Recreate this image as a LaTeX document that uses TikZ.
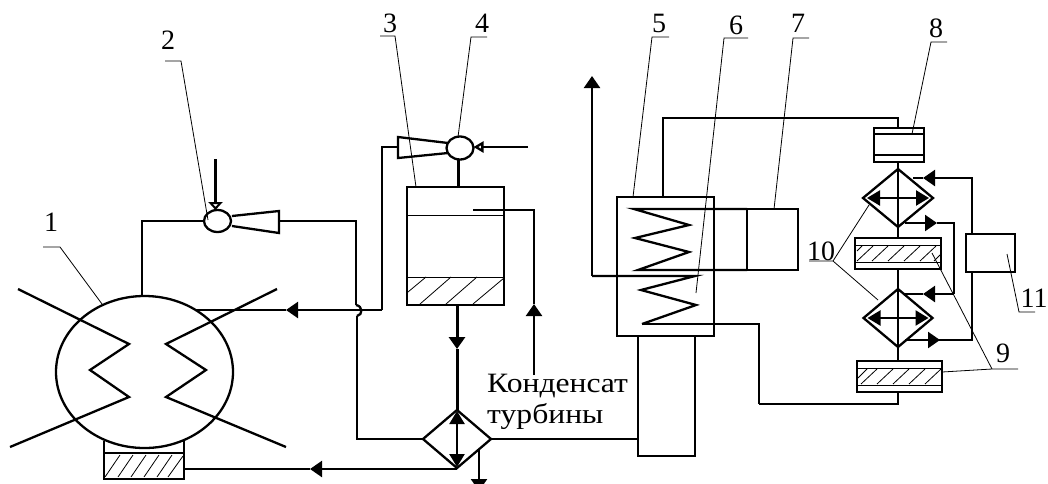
\documentclass[tikz,border=0pt]{standalone}
\usepackage{fontspec}
\setmainfont{Liberation Serif}
\newfontfamily\widefont[FakeStretch=1.13]{Liberation Serif}
\usetikzlibrary{arrows.meta,shapes.geometric}

\tikzset{
    pipe/.style={line width=2.3pt, line join=miter},
    shell/.style={draw, line width=2.3pt, inner sep=0pt, outer sep=0pt},
    thinline/.style={line width=1pt},
    hatchline/.style={line width=0.8pt},
    leader/.style={line width=0.8pt},
    flow/.style={pipe, -{Triangle[length=12pt,width=16pt]}},
    twoway/.style={pipe, {Triangle[length=13pt,width=15pt]}-{Triangle[length=13pt,width=15pt]}},
    numlabel/.style={font=\fontsize{28}{30}\selectfont, inner sep=0pt},
    condlabel/.style={font=\widefont\fontsize{28}{30}\selectfont, anchor=base west, inner sep=0pt}
}

\begin{document}
\begin{tikzpicture}[x=1pt, y=-1pt]
        \useasboundingbox (0,0) rectangle (1048,483);

        % Boiler drum with radiant tubes
        \node[shell, ellipse, minimum width=177pt, minimum height=152pt] (drum) at (144.5,372) {};
        \draw[pipe] (18,289) -- (129,344) -- (90,370) -- (129,397) -- (10,447);
        \draw[pipe] (277,289) -- (166,344) -- (206,370) -- (166,397) -- (286,447);

        % Slag box under the drum
        \node[shell, line width=1.6pt, minimum width=80pt, minimum height=26pt] (slagbox) at (144,466) {};
        \coordinate (slagwallA) at (104,441);
        \coordinate (slagwallB) at (184,441);
        \draw[line width=1.6pt] (slagbox.north west) -- (slagwallA);
        \draw[line width=1.6pt] (slagbox.north east) -- (slagwallB);
        \draw[hatchline] (105,477) -- (120,455);
        \draw[hatchline] (118,477) -- (133,455);
        \draw[hatchline] (131,477) -- (146,455);
        \draw[hatchline] (144,477) -- (159,455);
        \draw[hatchline] (157,477) -- (172,455);
        \draw[hatchline] (168,477) -- (183,456);

        % Ejector at the drum
        \node[shell, ellipse, minimum width=27pt, minimum height=22pt] (ejectorA) at (217.5,221) {};
        \draw[pipe] (232,216) -- (279,211) -- (279,233) -- (232,226);
        \coordinate (coneA) at (279,221);
        \coordinate (drumtop) at (142,296);
        \coordinate (inletA) at (215.5,159);
        \draw[pipe] (ejectorA.west) -| (drumtop);
        \draw[pipe, -{Triangle[open,length=8pt,width=14pt]}] (inletA) -- (inletA |- ejectorA.north);

        % Deaerator tank
        \node[shell, minimum width=97pt, minimum height=118pt] (tank) at (455.5,246) {};
        \draw[thinline] (tank.west |- 0,215) -- (tank.east |- 0,215);
        \draw[thinline] (tank.west |- 0,277) -- (tank.east |- 0,277);
        \draw[hatchline] (408,292) -- (426,277);
        \draw[hatchline] (420,304) -- (451,277);
        \draw[hatchline] (446,304) -- (477,277);
        \draw[hatchline] (473,304) -- (504,278);

        % Ejector above the tank
        \node[shell, ellipse, minimum width=27pt, minimum height=23pt] (ejectorB) at (460,148) {};
        \draw[pipe] (448,143) -- (398,137) -- (398,158) -- (448,153);
        \coordinate (coneB) at (398,147);
        \coordinate (inletB) at (528,147);
        \coordinate (tankIn) at (458,187);
        \draw[pipe, -{Triangle[open,length=10pt,width=11pt]}] (inletB) -- (ejectorB.east |- inletB);
        \draw[line width=3pt] (ejectorB.south -| tankIn) -- (tankIn);

        % Condensate line into the tank
        \coordinate (condA) at (473,210);
        \coordinate (condB) at (534,375);
        \coordinate (condTip) at (534,304);
        \draw[pipe] (condA) -| (condTip);
        \draw[flow] (condB) -- (condTip);
        \node[condlabel] (condtext) at (487,392) {Конденсат};
        \node[condlabel] (turbtext) at (487,423) {турбины};

        % Lower heat exchanger
        \node[shell, diamond, minimum width=68pt, minimum height=58pt] (coolerA) at (457,439) {};
        \draw[twoway, shorten <=1pt, shorten >=1pt] (coolerA.north) -- (coolerA.south);

        % Tank to exchanger
        \coordinate (tankTip) at (457,349);
        \draw[flow, line width=3pt] (tank.south -| coolerA.north) -- (tankTip);
        \draw[line width=3pt] (tankTip) -- (coolerA.north);

        % Return from the exchanger to the slag box
        \coordinate (slagIn) at (184,469);
        \coordinate (slagTip) at (310,469);
        \draw[flow] (coolerA.south |- slagIn) -- (slagTip);
        \draw[pipe] (slagTip) -- (slagIn);

        % Drain below the exchanger
        \coordinate (drainTop) at (479,449);
        \coordinate (drainTip) at (479,491);
        \draw[flow] (drainTop) -- (drainTip);

        % Line from ejector cone to the exchanger, with the hop
        \coordinate (hopTop) at (356,305);
        \coordinate (hopEnd) at (357,316);
        \draw[pipe] (coneA) -| (hopTop);
        \draw[pipe] (hopTop) .. controls (363,306) and (363,315) .. (hopEnd);
        \draw[pipe] (hopEnd) |- (coolerA.west);

        % Line from the upper ejector to the drum
        \coordinate (drumIn) at (196,310);
        \coordinate (elbowB) at (382,310);
        \coordinate (drumTip) at (286,310);
        \draw[pipe] (coneB) -| (elbowB);
        \draw[flow] (elbowB) -- (drumTip);
        \draw[pipe] (drumTip) -- (drumIn);

        % Air heater with the two coils
        \node[shell, minimum width=97pt, minimum height=139pt] (heater) at (665.5,266.5) {};
        \node[shell, minimum width=51pt, minimum height=61pt] (fan) at (772.5,239.5) {};
        \draw[pipe] (fan.north west) -- (634,209) -- (689,225) -- (635,238) -- (689,252) -- (638,270) -- (fan.south west);
        \coordinate (stackTip) at (592,76);
        \coordinate (stackFoot) at (592,276);
        \coordinate (coilEnd) at (642,324);
        \coordinate (feedElbow) at (759,404);
        \draw[flow] (stackFoot) -- (stackTip);
        \draw[pipe] (stackFoot) -- (695,276) -- (641,290) -- (696,305) -- (coilEnd);
        \draw[pipe] (coilEnd) -| (feedElbow);

        % Box under the heater
        \node[shell, minimum width=57pt, minimum height=120pt] (sump) at (666.5,396) {};
        \draw[pipe] (coolerA.east) -- (sump.west |- coolerA.east);

        % Right hand column
        \coordinate (column) at (898,0);
        \coordinate (heaterOut) at (663,197);
        \coordinate (columnTop) at (898,118);
        \node[shell, minimum width=50pt, minimum height=34pt] (pumpbox) at (899,145) {};
        \draw[pipe] (pumpbox.west |- 0,134) -- (pumpbox.east |- 0,134);
        \draw[pipe] (pumpbox.west |- 0,155) -- (pumpbox.east |- 0,155);
        \node[shell, diamond, minimum width=70pt, minimum height=58pt] (coolerB) at (898,198) {};
        \node[shell, diamond, minimum width=69pt, minimum height=58pt] (coolerC) at (898,318) {};
        \node[shell, minimum width=86pt, minimum height=31pt] (filterA) at (898,253.5) {};
        \node[shell, minimum width=85pt, minimum height=31pt] (filterB) at (899.5,376.5) {};
        \node[shell, minimum width=49pt, minimum height=38pt] (boxEl) at (990.5,253) {};

        % Filter fillings
        \draw[thinline] (filterA.west |- 0,245) -- (filterA.east |- 0,245);
        \draw[thinline] (filterA.west |- 0,262) -- (filterA.east |- 0,262);
        \draw[hatchline] (857,251) -- (862,246);
        \draw[hatchline] (857,261) -- (873,246);
        \draw[hatchline] (872,261) -- (888,246);
        \draw[hatchline] (888,261) -- (904,246);
        \draw[hatchline] (904,261) -- (920,246);
        \draw[hatchline] (920,261) -- (936,246);
        \draw[hatchline] (934,261) -- (940,255);
        \draw[thinline] (filterB.west |- 0,368) -- (filterB.east |- 0,368);
        \draw[thinline] (filterB.west |- 0,385) -- (filterB.east |- 0,385);
        \draw[hatchline] (858,378) -- (867,369);
        \draw[hatchline] (861,384) -- (877,369);
        \draw[hatchline] (877,384) -- (893,369);
        \draw[hatchline] (893,384) -- (909,369);
        \draw[hatchline] (909,384) -- (925,369);
        \draw[hatchline] (925,384) -- (941,369);

        % Column connections
        \draw[pipe] (heaterOut) |- (columnTop) -- (pumpbox.north -| column);
        \draw[pipe] (pumpbox.south -| column) -- (filterA.north);
        \draw[pipe] (filterA.south) -- (filterB.north -| column);
        \draw[pipe] (feedElbow) -| (filterB.south -| column);
        \draw[twoway, shorten <=4pt, shorten >=4pt] (coolerB.west) -- (coolerB.east);
        \draw[twoway, shorten <=4pt, shorten >=4pt] (coolerC.west) -- (coolerC.east);

        % Loops at the right hand column
        \coordinate (loopTop) at (913,178);
        \coordinate (loopTopTip) at (923,178);
        \coordinate (elTop) at (972,234);
        \coordinate (elBottom) at (972,272);
        \coordinate (loopLow) at (905,340);
        \coordinate (loopLowTip) at (940,340);
        \coordinate (midA) at (905,223);
        \coordinate (midATip) at (937,223);
        \coordinate (midB) at (905,294);
        \coordinate (midBTip) at (923,294);
        \coordinate (midC) at (954,294);
        \draw[flow] (elTop) |- (loopTopTip);
        \draw[pipe] (loopTopTip) -- (loopTop);
        \draw[pipe] (elBottom) |- (loopLow);
        \draw[flow] (loopLow) -- (loopLowTip);
        \draw[flow] (midA) -- (midATip);
        \draw[pipe] (midATip) -| (midC);
        \draw[flow] (midC) -- (midBTip);
        \draw[pipe] (midBTip) -- (midB);

        % Numbers
        \node[numlabel] (numA) at (51,222) {1};
        \node[numlabel] (numB) at (168,40) {2};
        \node[numlabel] (numC) at (390,23) {3};
        \node[numlabel] (numD) at (482,23) {4};
        \node[numlabel] (numE) at (659,23) {5};
        \node[numlabel] (numF) at (736,25) {6};
        \node[numlabel] (numG) at (798,23) {7};
        \node[numlabel] (numH) at (936,28) {8};
        \node[numlabel] (numI) at (1003,353) {9};
        \node[numlabel] (numJ) at (821,251) {10};
        \node[numlabel] (numK) at (1034,298) {11};

        % Leader lines
        \coordinate (tailA) at (43,247);
        \coordinate (kneeA) at (60,247);
        \coordinate (endA) at (102,304);
        \coordinate (tailB) at (165,61);
        \coordinate (kneeB) at (181,61);
        \coordinate (endB) at (208,220);
        \coordinate (tailC) at (380,36);
        \coordinate (kneeC) at (395,36);
        \coordinate (endC) at (416,187);
        \coordinate (tailD) at (487,37);
        \coordinate (kneeD) at (471,37);
        \coordinate (endD) at (458,137);
        \coordinate (tailE) at (669,37);
        \coordinate (kneeE) at (652,37);
        \coordinate (endE) at (633,197);
        \coordinate (tailF) at (748,38);
        \coordinate (kneeF) at (724,38);
        \coordinate (endF) at (696,293);
        \coordinate (tailG) at (809,38);
        \coordinate (kneeG) at (793,38);
        \coordinate (endG) at (774,209);
        \coordinate (tailH) at (947,42);
        \coordinate (kneeH) at (931,42);
        \coordinate (endH) at (912,134);
        \coordinate (tailI) at (1018,369);
        \coordinate (kneeI) at (992,369);
        \coordinate (endIa) at (942,372);
        \coordinate (endIb) at (932,253);
        \coordinate (tailJ) at (809,261);
        \coordinate (kneeJ) at (833,261);
        \coordinate (endJa) at (869,205);
        \coordinate (endJb) at (878,300);
        \coordinate (tailK) at (1035,312);
        \coordinate (kneeK) at (1019,312);
        \coordinate (endK) at (1007,254);
        \draw[leader] (tailA) -- (kneeA) -- (endA);
        \draw[leader] (tailB) -- (kneeB) -- (endB);
        \draw[leader] (tailC) -- (kneeC) -- (endC);
        \draw[leader] (tailD) -- (kneeD) -- (endD);
        \draw[leader] (tailE) -- (kneeE) -- (endE);
        \draw[leader] (tailF) -- (kneeF) -- (endF);
        \draw[leader] (tailG) -- (kneeG) -- (endG);
        \draw[leader] (tailH) -- (kneeH) -- (endH);
        \draw[leader] (tailI) -- (kneeI) -- (endIa);
        \draw[leader] (kneeI) -- (endIb);
        \draw[leader] (tailJ) -- (kneeJ) -- (endJa);
        \draw[leader] (kneeJ) -- (endJb);
        \draw[leader] (tailK) -- (kneeK) -- (endK);
    \end{tikzpicture}
\end{document}
